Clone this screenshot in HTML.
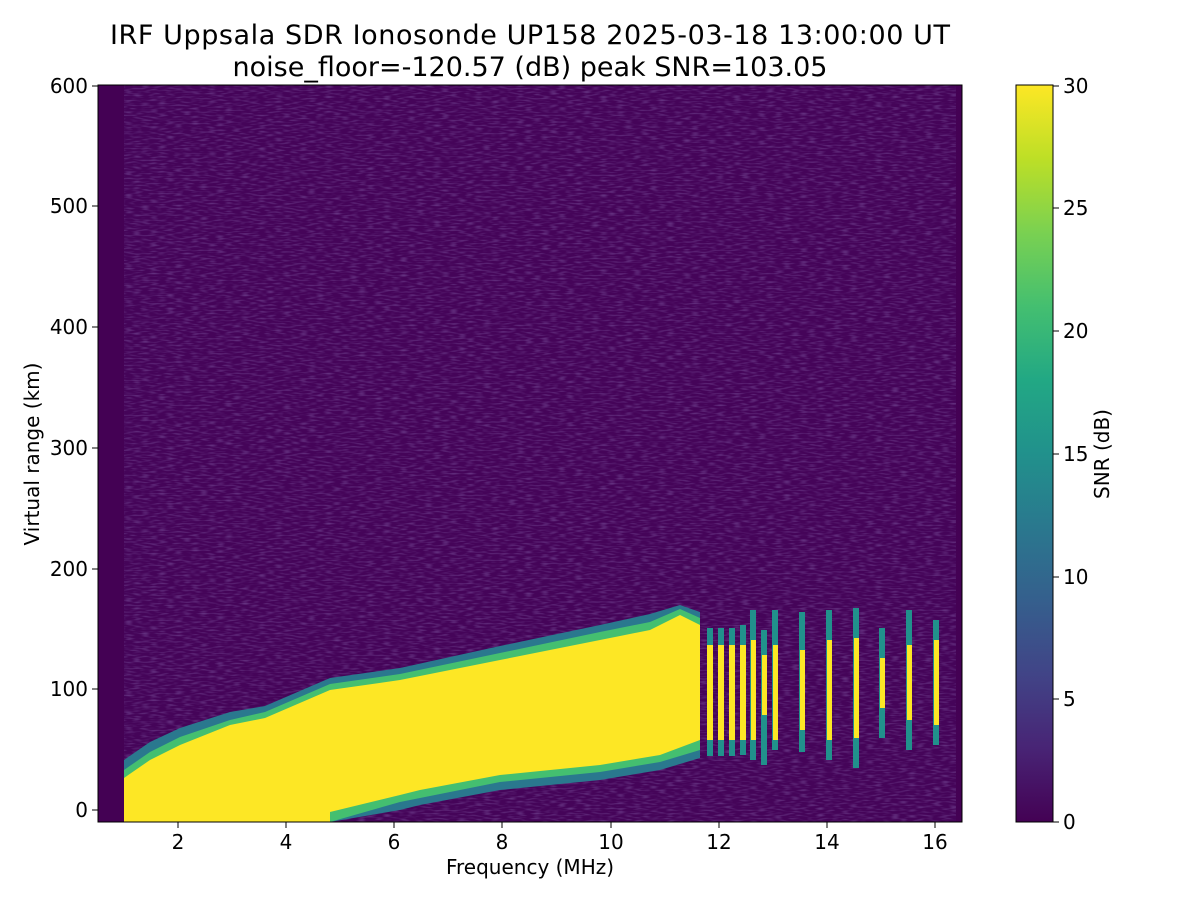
<!DOCTYPE html>
<html><head><meta charset="utf-8"><style>body{margin:0;background:#fff}svg{display:block}</style></head><body>
<svg width="1200" height="900" xmlns="http://www.w3.org/2000/svg" font-family="DejaVu Sans, Liberation Sans, sans-serif">
<defs>
<linearGradient id="vir" x1="0" y1="1" x2="0" y2="0">
<stop offset="0" stop-color="#440154"/><stop offset="0.1" stop-color="#482475"/><stop offset="0.2" stop-color="#414487"/><stop offset="0.3" stop-color="#355f8d"/><stop offset="0.4" stop-color="#2a788e"/><stop offset="0.5" stop-color="#21918c"/><stop offset="0.6" stop-color="#22a884"/><stop offset="0.7" stop-color="#44bf70"/><stop offset="0.8" stop-color="#7ad151"/><stop offset="0.9" stop-color="#bddf26"/><stop offset="1" stop-color="#fde725"/>
</linearGradient>
<filter id="nz" x="0" y="0" width="1" height="1"><feTurbulence type="fractalNoise" baseFrequency="0.12 0.6" numOctaves="1" seed="3"/><feColorMatrix type="matrix" values="0 0 0 0 0.28  0 0 0 0 0.17  0 0 0 0 0.48  0 0 0 2 -0.9"/></filter>
</defs>
<text x="530" y="44" font-size="27" text-anchor="middle" textLength="840">IRF Uppsala SDR Ionosonde UP158 2025-03-18 13:00:00  UT</text>
<text x="530" y="76" font-size="27" text-anchor="middle">noise_floor=-120.57 (dB) peak SNR=103.05</text>
<rect x="98" y="85" width="864" height="737" fill="#440154"/>
<rect x="124" y="85" width="832" height="737" fill="#450459"/>
<rect x="124" y="85" width="832" height="737" filter="url(#nz)" opacity="0.55"/>
<polygon fill="#2a788e" points="124,760 150,742 180,728 230,712 265,706 330,678 400,668 500,646 600,625 650,614 680,605 700,612 700,758 660,770 600,780 500,790 420,805 400,810 330,822 124,822"/>
<polygon fill="#44bf70" points="124,770 150,752 180,737 230,720 265,712 330,684 400,674 500,653 600,632 650,622 680,609 700,618 700,750 660,762 600,772 500,782 420,798 400,802 330,822 124,822"/>
<polygon fill="#fde725" points="124,778 150,760 180,745 230,725 265,718 330,690 400,680 500,660 600,640 650,630 680,615 700,625 700,740 660,755 600,765 500,775 420,790 400,795 330,812 330,822 124,822"/>
<g fill="#21918c">
<rect x="707" y="628" width="6" height="128"/><rect x="718" y="628" width="6" height="128"/><rect x="729" y="628" width="6" height="128"/><rect x="740" y="625" width="6" height="130"/><rect x="750" y="610" width="6" height="150"/><rect x="761" y="630" width="6" height="135"/><rect x="772" y="610" width="6" height="140"/><rect x="799" y="612" width="6" height="140"/><rect x="826" y="610" width="6" height="150"/><rect x="853" y="608" width="6" height="160"/><rect x="879" y="628" width="6" height="110"/><rect x="906" y="610" width="6" height="140"/><rect x="933" y="620" width="6" height="125"/>
</g>
<g fill="#fde725">
<rect x="707" y="645" width="6" height="95"/><rect x="718" y="645" width="6" height="95"/><rect x="729" y="645" width="6" height="95"/><rect x="740" y="645" width="6" height="95"/><rect x="751" y="640" width="5" height="100"/><rect x="762" y="655" width="5" height="60"/><rect x="773" y="645" width="5" height="95"/><rect x="800" y="650" width="5" height="80"/><rect x="827" y="640" width="5" height="100"/><rect x="854" y="638" width="5" height="100"/><rect x="880" y="658" width="5" height="50"/><rect x="907" y="645" width="5" height="75"/><rect x="934" y="640" width="5" height="85"/>
</g>
<rect x="98" y="85" width="864" height="737" fill="none" stroke="#000" stroke-width="1"/>
<g font-size="20" text-anchor="middle">
<g stroke="#000"><line x1="178" y1="822" x2="178" y2="828"/><line x1="286" y1="822" x2="286" y2="828"/><line x1="394" y1="822" x2="394" y2="828"/><line x1="502" y1="822" x2="502" y2="828"/><line x1="611" y1="822" x2="611" y2="828"/><line x1="719" y1="822" x2="719" y2="828"/><line x1="827" y1="822" x2="827" y2="828"/><line x1="935" y1="822" x2="935" y2="828"/></g>
<text x="178" y="849">2</text><text x="286" y="849">4</text><text x="394" y="849">6</text><text x="502" y="849">8</text><text x="611" y="849">10</text><text x="719" y="849">12</text><text x="827" y="849">14</text><text x="935" y="849">16</text>
<text x="530" y="874">Frequency (MHz)</text>
</g>
<g font-size="20" text-anchor="end">
<g stroke="#000"><line x1="92" y1="810" x2="98" y2="810"/><line x1="92" y1="689" x2="98" y2="689"/><line x1="92" y1="569" x2="98" y2="569"/><line x1="92" y1="448" x2="98" y2="448"/><line x1="92" y1="327" x2="98" y2="327"/><line x1="92" y1="206" x2="98" y2="206"/><line x1="92" y1="86" x2="98" y2="86"/></g>
<text x="88" y="817">0</text><text x="88" y="696">100</text><text x="88" y="576">200</text><text x="88" y="455">300</text><text x="88" y="334">400</text><text x="88" y="213">500</text><text x="88" y="93">600</text>
</g>
<text transform="translate(39,454) rotate(-90)" font-size="20" text-anchor="middle">Virtual range (km)</text>
<rect x="1016" y="85" width="37" height="737" fill="url(#vir)" stroke="#000"/>
<g font-size="20">
<g stroke="#000"><line x1="1053" y1="822" x2="1059" y2="822"/><line x1="1053" y1="699" x2="1059" y2="699"/><line x1="1053" y1="577" x2="1059" y2="577"/><line x1="1053" y1="454" x2="1059" y2="454"/><line x1="1053" y1="331" x2="1059" y2="331"/><line x1="1053" y1="208" x2="1059" y2="208"/><line x1="1053" y1="86" x2="1059" y2="86"/></g>
<text x="1063" y="829">0</text><text x="1063" y="706">5</text><text x="1063" y="584">10</text><text x="1063" y="461">15</text><text x="1063" y="338">20</text><text x="1063" y="215">25</text><text x="1063" y="93">30</text>
</g>
<text transform="translate(1109,454) rotate(-90)" font-size="20" text-anchor="middle">SNR (dB)</text>
</svg>
</body></html>
